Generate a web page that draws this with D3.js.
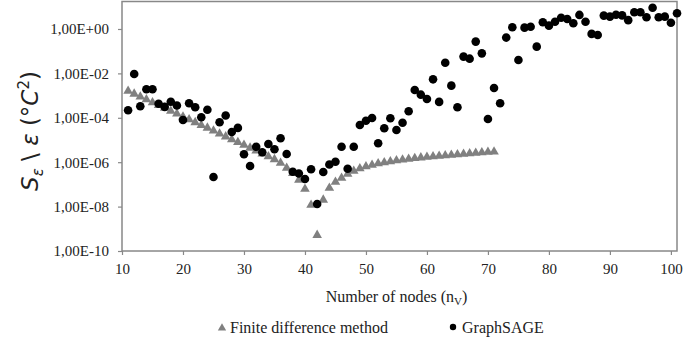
<!DOCTYPE html>
<html>
<head>
<meta charset="utf-8">
<script src="https://cdn.jsdelivr.net/npm/d3@7"></script>
<style>
  body { margin: 0; background: #fff; }
  text { font-family: "Liberation Serif", serif; }
</style>
</head>
<body>
<div id="chart"></div>
<script>
// Finite difference method (triangles), n = 11..71
const fdmNodes = [11,12,13,14,15,16,17,18,19,20,21,22,23,24,25,26,27,28,29,30,
  31,32,33,34,35,36,37,38,39,40,41,42,43,44,45,46,47,48,49,50,
  51,52,53,54,55,56,57,58,59,60,61,62,63,64,65,66,67,68,69,70,71];
const fdmValues = [1.61e-3,1.19e-3,8.9e-4,6.6e-4,4.9e-4,3.66e-4,2.74e-4,2.02e-4,1.51e-4,1.12e-4,
  8.4e-5,6.2e-5,4.6e-5,3.5e-5,2.6e-5,1.92e-5,1.42e-5,1.06e-5,7.9e-6,5.9e-6,
  4.4e-6,3.3e-6,2.4e-6,1.8e-6,1.34e-6,9.2e-7,5.5e-7,3.2e-7,1.6e-7,6.2e-8,
  1.17e-8,5.2e-10,2.0e-8,6.9e-8,1.29e-7,1.95e-7,2.95e-7,4.0e-7,5.2e-7,6.4e-7,
  7.5e-7,8.7e-7,9.7e-7,1.08e-6,1.19e-6,1.28e-6,1.39e-6,1.5e-6,1.6e-6,1.7e-6,
  1.81e-6,1.9e-6,2.0e-6,2.11e-6,2.22e-6,2.34e-6,2.47e-6,2.6e-6,2.74e-6,2.85e-6,2.97e-6];

// GraphSAGE (dots), n = 11..101
const sageNodes = [11,12,13,14,15,16,17,18,19,20,21,22,23,24,25,26,27,28,29,30,
  31,32,33,34,35,36,37,38,39,40,41,42,43,44,45,46,47,48,49,50,
  51,52,53,54,55,56,57,58,59,60,61,62,63,64,65,66,67,68,69,70,
  71,72,73,74,75,76,77,78,79,80,81,82,83,84,85,86,87,88,89,90,
  91,92,93,94,95,96,97,98,99,100,101];
const sageValues = [2.18e-4,9.4e-3,3.3e-4,1.92e-3,1.92e-3,4.3e-4,3.1e-4,5.3e-4,3.6e-4,8.0e-5,
  4.5e-4,3.0e-4,1.05e-4,2.3e-4,2.15e-7,6.3e-5,1.27e-4,2.3e-5,3.5e-5,2.27e-6,
  6.7e-7,5.0e-6,2.8e-6,6.6e-6,3.8e-6,1.19e-5,2.34e-6,3.7e-7,3.1e-7,1.75e-7,
  4.8e-7,1.31e-8,3.6e-7,7.9e-7,1.05e-6,5.0e-6,5.1e-7,5.0e-6,4.7e-5,7.4e-5,
  9.8e-5,7.1e-6,3.4e-5,9.5e-5,2.8e-5,6.0e-5,1.96e-4,1.79e-3,1.1e-3,7.0e-4,
  5.4e-3,5.2e-4,3.0e-2,2.8e-3,3.0e-4,5.7e-2,4.6e-2,2.7e-1,8.0e-2,8.8e-5,
  2.2e-3,4.5e-4,4.1e-1,1.19,4.0e-2,1.15,1.27,1.6e-1,2.0,1.41,
  2.13,3.2,2.8,1.8,4.3,2.13,0.60,0.54,4.0,3.6,
  4.4,4.1,2.5,5.7,5.7,3.4,9.1,3.4,3.6,1.9,5.1];

const xTicks = [10,20,30,40,50,60,70,80,90,100];
const yTicks = [1e-10,1e-8,1e-6,1e-4,1e-2,1e0];
const seriesNames = ["Finite difference method", "GraphSAGE"];

const width = 685, height = 343;
const margin = {top: 1.5, right: 8, bottom: 92, left: 122};
const innerW = width - margin.left - margin.right;
const innerH = height - margin.top - margin.bottom;

const axisColor = "#888888", triColor = "#808080", dotColor = "#000000";

const svg = d3.select("#chart").append("svg")
  .attr("width", width).attr("height", height);

const x = d3.scaleLinear().domain([10, 101]).range([0, innerW]);
const y = d3.scaleLog().domain([1e-10, 17.3]).range([innerH, 0]);

const g = svg.append("g").attr("transform", `translate(${margin.left},${margin.top})`);

// frame
g.append("rect")
  .attr("width", innerW).attr("height", innerH)
  .attr("fill", "none").attr("stroke", axisColor).attr("stroke-width", 1.5);

const sciFmt = v => {
  const e = Math.round(Math.log10(v));
  return "1,00E" + (e < 0 ? "-" : "+") + String(Math.abs(e)).padStart(2, "0");
};

const yAxisG = g.append("g")
  .call(d3.axisLeft(y).tickValues(yTicks).tickFormat(sciFmt).tickSize(4).tickPadding(9));
yAxisG.select(".domain").remove();
yAxisG.selectAll("line").attr("stroke", axisColor).attr("stroke-width", 1.2);
yAxisG.selectAll("text").attr("fill", "#222").style("font-size", "15px")
  .style("font-family", "'Liberation Serif', serif");

const xAxisG = g.append("g").attr("transform", `translate(0,${innerH})`)
  .call(d3.axisBottom(x).tickValues(xTicks).tickSize(4).tickPadding(8));
xAxisG.select(".domain").remove();
xAxisG.selectAll("line").attr("stroke", axisColor).attr("stroke-width", 1.2);
xAxisG.selectAll("text").attr("fill", "#222").style("font-size", "15px")
  .style("font-family", "'Liberation Serif', serif");

// x axis title
const xt = svg.append("text")
  .attr("x", margin.left + innerW / 2 - 3).attr("y", 302)
  .attr("text-anchor", "middle").attr("fill", "#222").style("font-size", "16px");
xt.append("tspan").text("Number of nodes (n");
xt.append("tspan").attr("dy", 3).style("font-size", "11px").text("V");
xt.append("tspan").attr("dy", -3).text(")");

// y axis title
const yt = svg.append("text")
  .attr("transform", `translate(38,131) rotate(-90)`)
  .attr("text-anchor", "middle").attr("fill", "#222")
  .style("font-family", "'DejaVu Sans', sans-serif").style("font-size", "23px");
yt.append("tspan").style("font-style", "italic").text("S");
yt.append("tspan").style("font-style", "italic").style("font-size", "15px").attr("dy", 5).text("ε");
yt.append("tspan").attr("dy", -5).text(" \\ ");
yt.append("tspan").style("font-style", "italic").text("ε");
yt.append("tspan").text(" (°");
yt.append("tspan").style("font-style", "italic").text("C");
yt.append("tspan").style("font-size", "15px").attr("dy", -9).text("2");
yt.append("tspan").attr("dy", 9).text(")");

// series
const fdmData = fdmNodes.map((n, i) => ({n, v: fdmValues[i]}));
const sageData = sageNodes.map((n, i) => ({n, v: sageValues[i]}));

const tri = d3.symbol(d3.symbolTriangle, 40);
g.append("g").selectAll("path").data(fdmData).join("path")
  .attr("d", tri)
  .attr("transform", d => `translate(${x(d.n)},${y(d.v)})`)
  .attr("fill", triColor);

g.append("g").selectAll("circle").data(sageData).join("circle")
  .attr("cx", d => x(d.n)).attr("cy", d => y(d.v))
  .attr("r", 4.3).attr("fill", dotColor);

// legend
const legend = svg.append("g").attr("transform", "translate(0,327)");
legend.append("path").attr("d", d3.symbol(d3.symbolTriangle, 30))
  .attr("transform", "translate(222,1)").attr("fill", triColor);
legend.append("text").attr("x", 230).attr("y", 5.5).attr("fill", "#222")
  .style("font-size", "16px").text(seriesNames[0]);
legend.append("circle").attr("cx", 453).attr("cy", 0).attr("r", 3.2).attr("fill", dotColor);
legend.append("text").attr("x", 462).attr("y", 5.5).attr("fill", "#222")
  .style("font-size", "16px").text(seriesNames[1]);
</script>
</body>
</html>
